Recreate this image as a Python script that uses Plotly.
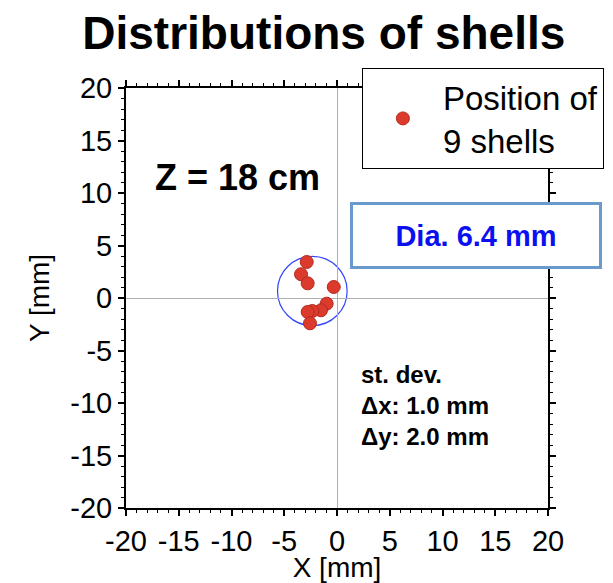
import plotly.graph_objects as go

# data (mm)
shell_x = [-2.87, -3.41, -2.78, -0.31, -0.98, -1.52, -2.34, -2.78, -2.56]
shell_y = [3.43, 2.26, 1.40, 1.05, -0.54, -1.17, -1.24, -1.33, -2.41]
circle_center = (-2.34, 0.67)
circle_radius = 3.3
tick_vals = [-20, -15, -10, -5, 0, 5, 10, 15, 20]
tick_text = ["-20", "-15", "-10", "-5", "0", "5", "10", "15", "20"]

FONT = "Liberation Sans, Arial, Helvetica, sans-serif"

fig = go.Figure()
fig.add_trace(go.Scatter(
    x=shell_x, y=shell_y, mode="markers",
    name="Position of<br>9 shells",
    marker=dict(size=13, color="#dc3a2c", line=dict(color="#b52a20", width=1)),
))

fig.add_shape(type="circle", xref="x", yref="y",
              x0=circle_center[0] - circle_radius, x1=circle_center[0] + circle_radius,
              y0=circle_center[1] - circle_radius, y1=circle_center[1] + circle_radius,
              line=dict(color="#3344ff", width=1.2), layer="below")

axis_common = dict(
    range=[-20, 20], tickmode="array", tickvals=tick_vals, ticktext=tick_text, tickangle=0,
    ticks="outside", ticklen=6, tickwidth=2,
    tickcolor="black", showline=True, linecolor="black", linewidth=2, mirror="allticks",
    showgrid=True, gridcolor="rgba(0,0,0,0)",
    zeroline=True, zerolinecolor="#b0b0b0", zerolinewidth=1,
    tickfont=dict(size=29, color="black", family=FONT),
    minor=dict(dtick=1, tick0=-20, ticks="outside", ticklen=3, tickwidth=1, tickcolor="black",
               showgrid=False),
)

fig.update_xaxes(**axis_common,
                 title=dict(text="X [mm]", font=dict(size=28, family=FONT), standoff=4))
fig.update_yaxes(**axis_common,
                 title=dict(text="Y [mm]", font=dict(size=28, family=FONT), standoff=12))

fig.add_annotation(text="<b>Z = 18 cm</b>", xref="paper", yref="paper", x=0.064, y=0.788,
                   xanchor="left", yanchor="middle", showarrow=False,
                   font=dict(size=36, color="black", family=FONT))
fig.add_annotation(text="<b>Dia. 6.4 mm</b>", xref="paper", yref="paper", x=0.829, y=0.649,
                   xanchor="center", yanchor="middle", showarrow=False,
                   font=dict(size=29, color="#0a10f0", family=FONT),
                   bordercolor="#6a99cc", borderwidth=3, borderpad=8, bgcolor="white",
                   width=230, height=45)
fig.add_annotation(text="<b>st. dev.<br>Δx: 1.0 mm<br>Δy: 2.0 mm</b>", xref="paper", yref="paper",
                   x=0.553, y=0.245, xanchor="left", yanchor="middle", showarrow=False, align="left",
                   font=dict(size=24, color="black", family=FONT))

fig.update_layout(
    width=605, height=575,
    margin=dict(l=118, r=65, t=80, b=75, autoexpand=False),
    paper_bgcolor="white", plot_bgcolor="white",
    title=dict(text="<b>Distributions of shells</b>", x=0.522, xanchor="center", y=0.956, yanchor="middle",
               font=dict(size=46, color="black", family=FONT)),
    font=dict(family=FONT, color="black"),
    showlegend=True,
    legend=dict(x=0.559, y=1.0476, xanchor="left", yanchor="top", bgcolor="white",
                bordercolor="black", borderwidth=1, font=dict(size=33, family=FONT),
                itemwidth=70),
)

fig.write_html("out.html")
